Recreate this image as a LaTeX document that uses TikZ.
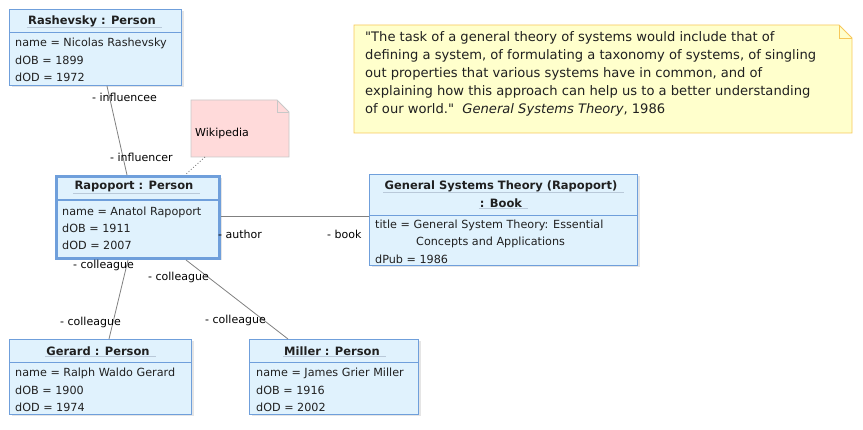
\documentclass[tikz,border=0pt]{standalone}
\usepackage{fontspec}
\setmainfont{DejaVu Sans}
\newfontfamily\quotefont{DejaVu Sans}
\usetikzlibrary{shadows}
\definecolor{boxfill}{HTML}{E0F2FD}
\definecolor{boxline}{HTML}{6F9FDB}
\definecolor{ulc}{HTML}{B9C9D9}
\definecolor{txt}{HTML}{202020}
\definecolor{conn}{HTML}{808080}
\definecolor{qfill}{HTML}{FFFFCC}
\definecolor{qline}{HTML}{F7C85A}
\definecolor{wfill}{HTML}{FFDADA}
\definecolor{wline}{HTML}{C8C8C8}
\newcommand{\attrfont}{\fontsize{11.2}{13}\selectfont}
\newcommand{\ttlfont}{\fontsize{11.5}{13}\selectfont\bfseries}
\newcommand{\rolefont}{\fontsize{11}{13}\selectfont}
\begin{document}
\begin{tikzpicture}[x=1pt,y=-1pt,
  objbox/.style={draw=boxline, fill=boxfill, line width=1pt, anchor=north west, inner sep=0pt,
    drop shadow={shadow xshift=2pt, shadow yshift=-2pt, opacity=0.25, fill=black!40}},
  sepline/.style={draw=boxline, line width=1pt},
  attr/.style={font=\attrfont, text=txt, anchor=west, inner sep=0pt},
  ttl/.style={font=\ttlfont, text=txt, anchor=center, inner sep=1pt},
  uline/.style={draw=ulc, line width=0.8pt},
  role/.style={font=\rolefont, text=black, anchor=west, inner sep=0pt},
  conline/.style={draw=conn, line width=0.8pt}
]
\useasboundingbox (0,0) rectangle (863,430);

% ---------- Rashevsky ----------
\node[objbox, minimum width=172pt, minimum height=76pt] (rash) at (9,9) {};
\draw[sepline] (9,33) -- (181,33);
\node[ttl] (rasht) at (92,21) {Rashevsky : Person};
\draw[uline] (rasht.south west) -- ([xshift=5pt]rasht.south east);
\node[attr] (rasha1) at (15,43) {name = Nicolas Rashevsky};
\node[attr] (rasha2) at (15,60) {dOB = 1899};
\node[attr] (rasha3) at (15,77) {dOD = 1972};

% ---------- Rapoport ----------
\node[objbox, line width=3pt, minimum width=163pt, minimum height=82pt] (rap) at (55,175) {};
\draw[draw=boxline, line width=2.5pt] (55,200) -- (218,200);
\node[ttl] (rapt) at (134,187) {Rapoport : Person};
\draw[uline] (rapt.south west) -- ([xshift=5pt]rapt.south east);
\node[attr] (rapa1) at (62,212) {name = Anatol Rapoport};
\node[attr] (rapa2) at (62,228) {dOB = 1911};
\node[attr] (rapa3) at (62,245) {dOD = 2007};

% ---------- Book ----------
\node[objbox, minimum width=268pt, minimum height=91pt] (book) at (369,174) {};
\draw[sepline] (369,216) -- (637,216);
\node[ttl] (bookt1) at (501,186) {General Systems Theory (Rapoport)};
\draw[uline] (bookt1.south west) -- ([xshift=5pt]bookt1.south east);
\node[ttl] (bookt2) at (501,203) {: Book};
\draw[uline] (bookt2.south west) -- ([xshift=5pt]bookt2.south east);
\node[attr] (booka1) at (375,225) {title = General System Theory: Essential};
\node[attr] (booka2) at (416,242) {Concepts and Applications};
\node[attr] (booka3) at (375,259) {dPub = 1986};

% ---------- Gerard ----------
\node[objbox, minimum width=182pt, minimum height=75pt] (ger) at (9,339) {};
\draw[sepline] (9,363) -- (191,363);
\node[ttl] (gert) at (98,351) {Gerard : Person};
\draw[uline] (gert.south west) -- ([xshift=5pt]gert.south east);
\node[attr] (gera1) at (15,373) {name = Ralph Waldo Gerard};
\node[attr] (gera2) at (15,390) {dOB = 1900};
\node[attr] (gera3) at (15,407) {dOD = 1974};

% ---------- Miller ----------
\node[objbox, minimum width=169pt, minimum height=75pt] (mil) at (249,339) {};
\draw[sepline] (249,363) -- (418,363);
\node[ttl] (milt) at (332,351) {Miller : Person};
\draw[uline] (milt.south west) -- ([xshift=5pt]milt.south east);
\node[attr] (mila1) at (256,373) {name = James Grier Miller};
\node[attr] (mila2) at (256,390) {dOB = 1916};
\node[attr] (mila3) at (256,407) {dOD = 2002};

% ---------- Wikipedia note ----------
\coordinate (wnw) at (191,100);
\coordinate (wse) at (289,157);
\filldraw[fill=wfill, draw=wline, line width=0.8pt]
  (191,100) -- (277,100) -- (289,112) -- (289,157) -- (191,157) -- cycle;
\draw[draw=wline, line width=0.8pt] (277,100) -- (277,112) -- (289,112);
\node[attr, font=\fontsize{11}{13}\selectfont, text=black] (wiki) at (195,133) {Wikipedia};

% ---------- Quote note ----------
\filldraw[fill=qfill, draw=qline, line width=0.8pt]
  (354,25) -- (839,25) -- (852,38) -- (852,133) -- (354,133) -- cycle;
\draw[draw=qline, line width=0.8pt] (839,25) -- (839,38) -- (852,38);
\node[anchor=north west, inner sep=0pt, align=left, text=txt,
      font=\quotefont\fontsize{13.1}{18}\selectfont] (quote) at (365,31)
  {"The task of a general theory of systems would include that of\\
   defining a system, of formulating a taxonomy of systems, of singling\\
   out properties that various systems have in common, and of\\
   explaining how this approach can help us to a better understanding\\
   of our world."\ \ \textit{General Systems Theory}, 1986};

% ---------- Connectors ----------
\draw[conline] (rash.south -| 107,0) -- (rap.north -| 127,0);
\draw[conn, line width=0.8pt, dash pattern=on 1pt off 2pt] (wse -| 205,0) -- (rap.north -| 185,0);
\draw[conline] (rap.east |- 0,216) -- (book.west |- 0,216);
\draw[conline] (rap.south -| 128,0) -- (ger.north -| 109,0);
\draw[conline] (rap.south -| 186,0) -- (mil.north -| 288,0);

% ---------- Role labels ----------
\node[role] (r1) at (92,97) {- influencee};
\node[role] (r2) at (110,157) {- influencer};
\node[role] (r3) at (218,234) {- author};
\node[role] (r4) at (327,234) {- book};
\node[role] (r5) at (73,265) {- colleague};
\node[role] (r6) at (148,277) {- colleague};
\node[role] (r7) at (60,322) {- colleague};
\node[role] (r8) at (205,320) {- colleague};
\end{tikzpicture}
\end{document}
